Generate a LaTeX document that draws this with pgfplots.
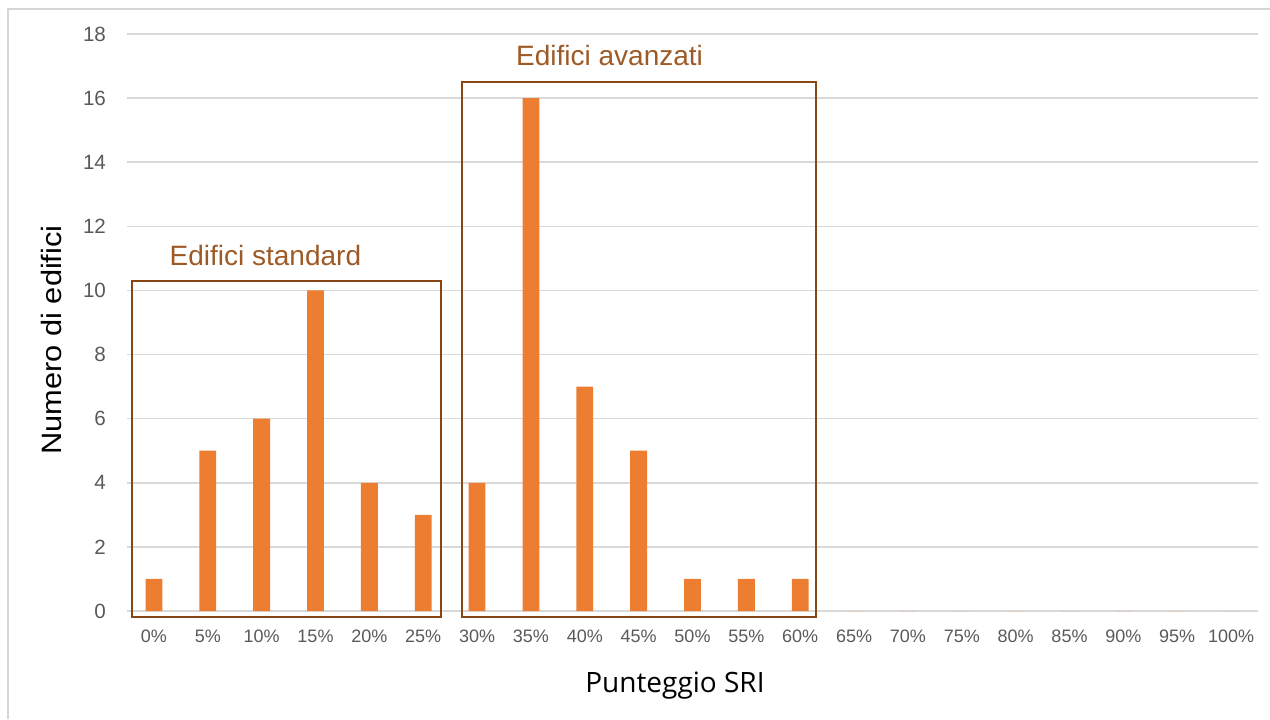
\documentclass[border=0pt]{standalone}
\usepackage{pgfplots}
\pgfplotsset{compat=1.18}
\usepackage{fontspec}
\setmainfont{Liberation Sans}
\newfontfamily\titlefont{Open Sans}
\definecolor{barorange}{HTML}{ED7D31}
\definecolor{boxbrown}{HTML}{8A4516}
\definecolor{labelbrown}{HTML}{9E5A26}
\definecolor{gridgray}{HTML}{D9D9D9}
\definecolor{tickgray}{HTML}{595959}
\definecolor{framegray}{HTML}{D6D6D6}

\begin{document}
\begin{tikzpicture}
\useasboundingbox (0,0) rectangle (635pt,359.5pt);
% chart area frame
\draw[framegray, line width=1.1pt] (4pt,0) -- (4pt,355pt) -- (635pt,355pt);
\begin{axis}[
  at={(63.5pt,54pt)}, anchor=south west,
  scale only axis, width=565.5pt, height=288.5pt,
  xmin=-0.5, xmax=20.5, ymin=0, ymax=18,
  ytick={0,2,...,18},
  xtick={0,...,20},
  xticklabels={0\%,5\%,10\%,15\%,20\%,25\%,30\%,35\%,40\%,45\%,50\%,55\%,60\%,65\%,70\%,75\%,80\%,85\%,90\%,95\%,100\%},
  axis line style={draw=none},
  major tick length=0pt,
  ymajorgrids, grid style={gridgray, line width=0.8pt},
  /pgf/number format/assume math mode=true,
  yticklabel style={tickgray, font=\fontsize{10.3}{12}\selectfont, xshift=-7pt},
  xticklabel style={tickgray, font=\fontsize{9}{11}\selectfont, yshift=-6pt},
  ybar, bar width=8.4pt,
  clip=false,
  xlabel={\titlefont Punteggio SRI},
  ylabel={\scalebox{1.1}[1]{Numero di edifici}},
  every axis x label/.style={at={(axis description cs:0.4845,-0.13)}, anchor=center, font=\fontsize{14}{16}\selectfont},
  every axis y label/.style={at={(axis description cs:-0.0672,0.4697)}, anchor=center, rotate=90, font=\fontsize{14}{16}\selectfont},
]
\addplot[fill=barorange, draw=none] coordinates {
  (0,1) (1,5) (2,6) (3,10) (4,4) (5,3) (6,4) (7,16) (8,7) (9,5)
  (10,1) (11,1) (12,1) (13,0) (14,0) (15,0) (16,0) (17,0) (18,0) (19,0) (20,0)
};
% group boxes and their captions
\draw[boxbrown, line width=1pt] (axis cs:-0.41,-0.19) rectangle (axis cs:5.33,10.29);
\draw[boxbrown, line width=1pt] (axis cs:5.72,-0.19) rectangle (axis cs:12.29,16.5);
\node[labelbrown, anchor=base, font=\fontsize{14}{16}\selectfont, inner sep=0pt] at (axis cs:2.07,10.79) {Edifici standard};
\node[labelbrown, anchor=base, font=\fontsize{14}{16}\selectfont, inner sep=0pt] at (axis cs:8.46,17.03) {Edifici avanzati};
\end{axis}
\end{tikzpicture}
\end{document}
